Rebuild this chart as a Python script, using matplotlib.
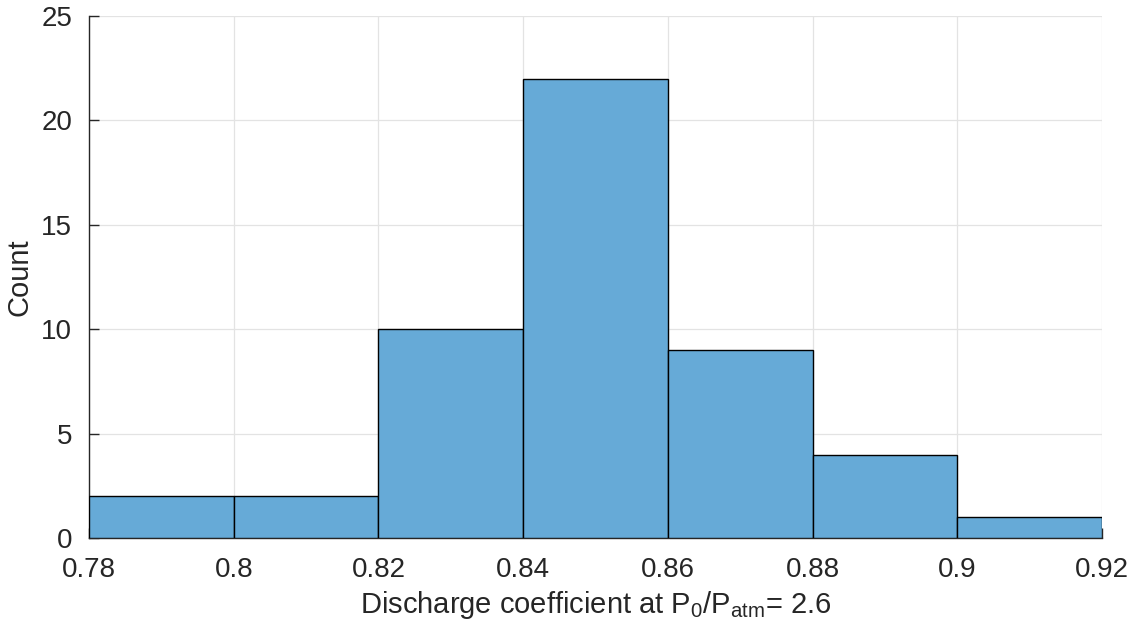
import matplotlib
matplotlib.use("Agg")
import matplotlib.pyplot as plt

# histogram of discharge coefficients (bin edges and counts per bin)
bin_edges = [0.78, 0.80, 0.82, 0.84, 0.86, 0.88, 0.90, 0.92]
counts = [2, 2, 10, 22, 9, 4, 1]
xticks = [0.78, 0.8, 0.82, 0.84, 0.86, 0.88, 0.9, 0.92]
xtick_labels = ["0.78", "0.8", "0.82", "0.84", "0.86", "0.88", "0.9", "0.92"]
yticks = [0, 5, 10, 15, 20, 25]

plt.rcParams['font.family'] = ['Liberation Sans', 'DejaVu Sans']
plt.rcParams['mathtext.fontset'] = 'custom'
plt.rcParams['mathtext.rm'] = 'Liberation Sans'
txt = "#262626"

fig = plt.figure(figsize=(11.43, 6.38), dpi=100)
ax = fig.add_axes([0.0779, 0.1567, 0.8862, 0.8182])

widths = [bin_edges[i+1] - bin_edges[i] for i in range(len(counts))]
ax.bar(bin_edges[:-1], counts, width=widths, align="edge",
       color="#66AAD7", edgecolor="black", linewidth=1.0, zorder=3)

ax.set_xlim(0.78, 0.92)
ax.set_ylim(0, 25)
ax.set_xticks(xticks)
ax.set_xticklabels(xtick_labels)
ax.set_yticks(yticks)
ax.grid(True, color="#e3e3e3", linewidth=0.9, zorder=0)
ax.set_axisbelow(True)

for s in ["top", "right"]:
    ax.spines[s].set_visible(False)
for s in ["left", "bottom"]:
    ax.spines[s].set_color(txt)
    ax.spines[s].set_linewidth(1.0)

ax.tick_params(direction="in", length=7, width=1.0, colors=txt,
               labelsize=20)
ax.tick_params(axis="x", pad=14)
ax.tick_params(axis="y", pad=12)

ax.set_xlabel(r"Discharge coefficient at P$_{\mathrm{0}}$/P$_{\mathrm{atm}}$= 2.6",
              fontsize=21, color=txt, labelpad=4)
ax.set_ylabel("Count", fontsize=21, color=txt, labelpad=6)

fig.savefig("out.png", dpi=100)
